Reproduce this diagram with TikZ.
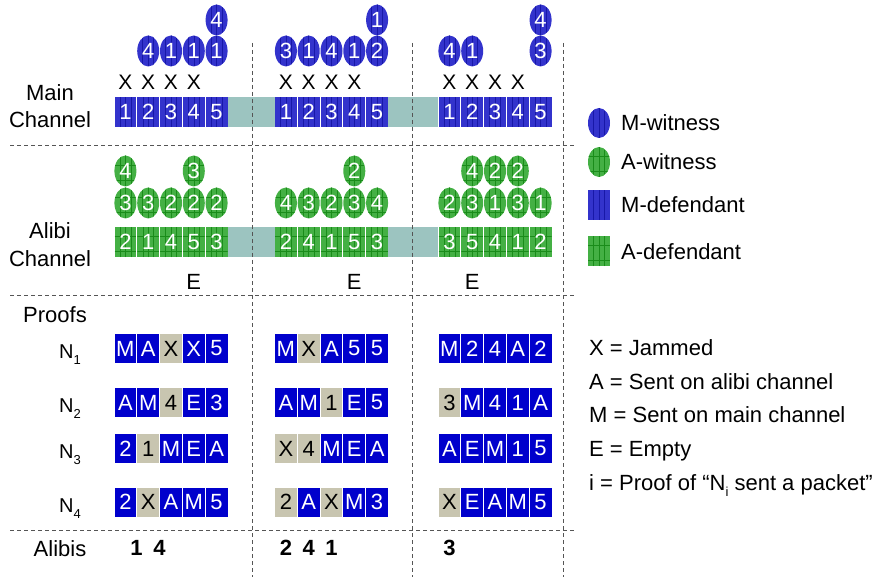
\documentclass[tikz,border=0pt]{standalone}
\usepackage{fontspec}
\setmainfont{Liberation Sans}
\usetikzlibrary{shapes.geometric,calc}

\definecolor{chblue}{HTML}{3333CC}
\definecolor{chbluedark}{HTML}{1818A8}
\definecolor{chgreen}{HTML}{44B044}
\definecolor{chgreendark}{HTML}{1A8C1A}
\definecolor{gapteal}{HTML}{9CC4C0}
\definecolor{prblue}{HTML}{0000CC}
\definecolor{prgray}{HTML}{C8C5B0}
\definecolor{sepgray}{HTML}{555555}

\newcommand\fsz[1]{\fontsize{#1}{#1}\selectfont}
\newcommand\lowsub[1]{\raisebox{-0.3em}{\fsz{13}#1}}

\tikzset{
  vhatch/.style={path picture={
    \foreach \f in {0.25,0.5,0.75}
      \draw[#1, line width=0.45pt]
        ($(path picture bounding box.south west)!\f!(path picture bounding box.south east)$) --
        ($(path picture bounding box.north west)!\f!(path picture bounding box.north east)$);}},
  ghatch/.style={path picture={
    \foreach \f in {0.25,0.5,0.75}
      \draw[#1, line width=0.45pt]
        ($(path picture bounding box.south west)!\f!(path picture bounding box.south east)$) --
        ($(path picture bounding box.north west)!\f!(path picture bounding box.north east)$);
    \foreach \f in {0.3,0.8}
      \draw[#1, line width=0.45pt]
        ($(path picture bounding box.north west)!\f!(path picture bounding box.south west)$) --
        ($(path picture bounding box.north east)!\f!(path picture bounding box.south east)$);}},
  cellbase/.style={rectangle, inner sep=0pt, outer sep=0pt, minimum width=21.8pt,
    text=white, font=\fsz{22}},
  mdef/.style={cellbase, minimum height=30pt, fill=chblue, vhatch=chbluedark},
  adef/.style={cellbase, minimum height=30pt, fill=chgreen, ghatch=chgreendark},
  witbase/.style={ellipse, inner sep=0pt, outer sep=0pt, minimum width=22pt,
    minimum height=31pt, text=white, font=\fsz{22}},
  mwit/.style={witbase, fill=chblue, vhatch=chbluedark},
  awit/.style={witbase, fill=chgreen, ghatch=chgreendark},
  prb/.style={cellbase, minimum height=29pt, fill=prblue},
  prg/.style={cellbase, minimum height=29pt, fill=prgray, text=black},
  gapbar/.style={rectangle, inner sep=0pt, outer sep=0pt, minimum height=30pt, fill=gapteal},
  sepline/.style={sepgray, dash pattern=on 4pt off 3pt, line width=1pt},
  lbl/.style={font=\fsz{22}, inner sep=0pt, anchor=base},
  nlbl/.style={font=\fsz{20}, inner sep=0pt, anchor=base west},
  lgd/.style={font=\fsz{22}, inner sep=0pt, anchor=base west},
  jam/.style={font=\fsz{21}, inner sep=0pt},
  alibi/.style={font=\fsz{22}\bfseries, inner sep=0pt},
}

% a row of five cells: style, name prefix, left x, centre y, contents
\newcommand\cellrow[5]{%
  \foreach [count=\c] \t in {#5}
    \node[#1] (#2-\c) at ({#3+22.8*\c-11.4},#4) {\t};}
% a row of proof cells: name prefix, left x, centre y, contents/colour
\newcommand\proofrow[4]{%
  \foreach [count=\c] \t/\k in {#4}
    \node[pr\k] (#1-\c) at ({#2+22.8*\c-11.4},#3) {\t};}
% witnesses over given columns: style, name prefix, left x, centre y, column/number
\newcommand\witrow[5]{%
  \foreach \c/\t in {#5}
    \node[#1] (#2-\c) at ({#3+22.8*\c-11.4},#4) {\t};}

\begin{document}
\begin{tikzpicture}[x=1pt,y=-1pt]
\useasboundingbox (0,0) rectangle (888,577);

% row labels
\node[lbl] (lmain1) at (50,101) {Main};
\node[lbl] (lmain2) at (50,128) {Channel};
\node[lbl] (lalibi1) at (50,239) {Alibi};
\node[lbl] (lalibi2) at (50,266) {Channel};
\node[lbl] (lproofs) at (55,322) {Proofs};
\node[nlbl] (ln1) at (59,358) {N\lowsub{1}};
\node[nlbl] (ln2) at (59,412) {N\lowsub{2}};
\node[nlbl] (ln3) at (59,458) {N\lowsub{3}};
\node[nlbl] (ln4) at (59,512) {N\lowsub{4}};
\node[lbl] (lalibis) at (60,556) {Alibis};

% main channel
\node[gapbar, minimum width=47pt] (mgap1) at (251.2,112) {};
\node[gapbar, minimum width=50pt] (mgap2) at (413.2,112) {};
\cellrow{mdef}{m1}{114}{112}{1,2,3,4,5}
\cellrow{mdef}{m2}{274.5}{112}{1,2,3,4,5}
\cellrow{mdef}{m3}{438}{112}{1,2,3,4,5}

% jammed slots
\cellrow{jam}{x1}{114}{82}{X,X,X,X}
\cellrow{jam}{x2}{274.5}{82}{X,X,X,X}
\cellrow{jam}{x3}{438}{82}{X,X,X,X}

% main channel witnesses
\witrow{mwit}{mw1b}{114}{51}{2/4,3/1,4/1,5/1}
\witrow{mwit}{mw1t}{114}{20}{5/4}
\witrow{mwit}{mw2b}{274.5}{51}{1/3,2/1,3/4,4/1,5/2}
\witrow{mwit}{mw2t}{274.5}{20}{5/1}
\witrow{mwit}{mw3b}{438}{51}{1/4,2/1,5/3}
\witrow{mwit}{mw3t}{438}{20}{5/4}

% alibi channel
\node[gapbar, minimum width=47pt] (agap1) at (251.2,242) {};
\node[gapbar, minimum width=50pt] (agap2) at (413.2,242) {};
\cellrow{adef}{a1}{114}{242}{2,1,4,5,3}
\cellrow{adef}{a2}{274.5}{242}{2,4,1,5,3}
\cellrow{adef}{a3}{438}{242}{3,5,4,1,2}

% alibi channel witnesses
\witrow{awit}{aw1b}{114}{203}{1/3,2/3,3/2,4/2,5/2}
\witrow{awit}{aw1t}{114}{171}{1/4,4/3}
\witrow{awit}{aw2b}{274.5}{203}{1/4,2/3,3/2,4/3,5/4}
\witrow{awit}{aw2t}{274.5}{171}{4/2}
\witrow{awit}{aw3b}{438}{203}{1/2,2/3,3/1,4/3,5/1}
\witrow{awit}{aw3t}{438}{171}{2/4,3/2,4/2}

% empty slots
\node[lbl, anchor=center] (e1) at (193.8,282) {E};
\node[lbl, anchor=center] (e2) at (354.3,282) {E};
\node[lbl, anchor=center] (e3) at (472.2,282) {E};

% proofs, first round
\proofrow{p1n1}{114}{348.5}{M/b,A/b,X/g,X/b,5/b}
\proofrow{p1n2}{114}{402.5}{A/b,M/b,4/g,E/b,3/b}
\proofrow{p1n3}{114}{448.5}{2/b,1/g,M/b,E/b,A/b}
\proofrow{p1n4}{114}{502}{2/b,X/g,A/b,M/b,5/b}
% proofs, second round
\proofrow{p2n1}{274.5}{348.5}{M/b,X/g,A/b,5/b,5/b}
\proofrow{p2n2}{274.5}{402.5}{A/b,M/b,1/g,E/b,5/b}
\proofrow{p2n3}{274.5}{448.5}{X/g,4/g,M/b,E/b,A/b}
\proofrow{p2n4}{274.5}{502}{2/g,A/b,X/g,M/b,3/b}
% proofs, third round
\proofrow{p3n1}{438}{348.5}{M/b,2/b,4/b,A/b,2/b}
\proofrow{p3n2}{438}{402.5}{3/g,M/b,4/b,1/b,A/b}
\proofrow{p3n3}{438}{448.5}{A/b,E/b,M/b,1/b,5/b}
\proofrow{p3n4}{438}{502}{X/g,E/b,A/b,M/b,5/b}

% alibis
\cellrow{alibi}{al1}{125.2}{548}{1,4}
\cellrow{alibi}{al2}{274.5}{548}{2,4,1}
\cellrow{alibi}{al3}{438}{548}{3}

% legend
\node[mwit, minimum height=30pt] (kmw) at (599,123) {};
\node[lgd] (kmwt) at (621,131) {M-witness};
\node[awit, minimum height=30pt] (kaw) at (599,162) {};
\node[lgd] (kawt) at (621,170) {A-witness};
\node[mdef, minimum width=22pt] (kmd) at (599,205) {};
\node[lgd] (kmdt) at (621,213) {M-defendant};
\node[adef, minimum width=22pt] (kad) at (599,251) {};
\node[lgd] (kadt) at (621,259) {A-defendant};

\node[lgd] (kx) at (589,355) {X = Jammed};
\node[lgd] (ka) at (589,389) {A = Sent on alibi channel};
\node[lgd] (km) at (589,422) {M = Sent on main channel};
\node[lgd] (ke) at (589,456) {E = Empty};
\node[lgd] (ki) at (589,490) {i = Proof of “N\lowsub{i} sent a packet”};

% round and section separators
\draw[sepline] (10,146) -- (575,146);
\draw[sepline] (10,295) -- (575,295);
\draw[sepline] (10,530) -- (575,530);
\foreach \x in {252,412,563}
  \draw[sepline] (\x,43) -- (\x,577);
\end{tikzpicture}
\end{document}
